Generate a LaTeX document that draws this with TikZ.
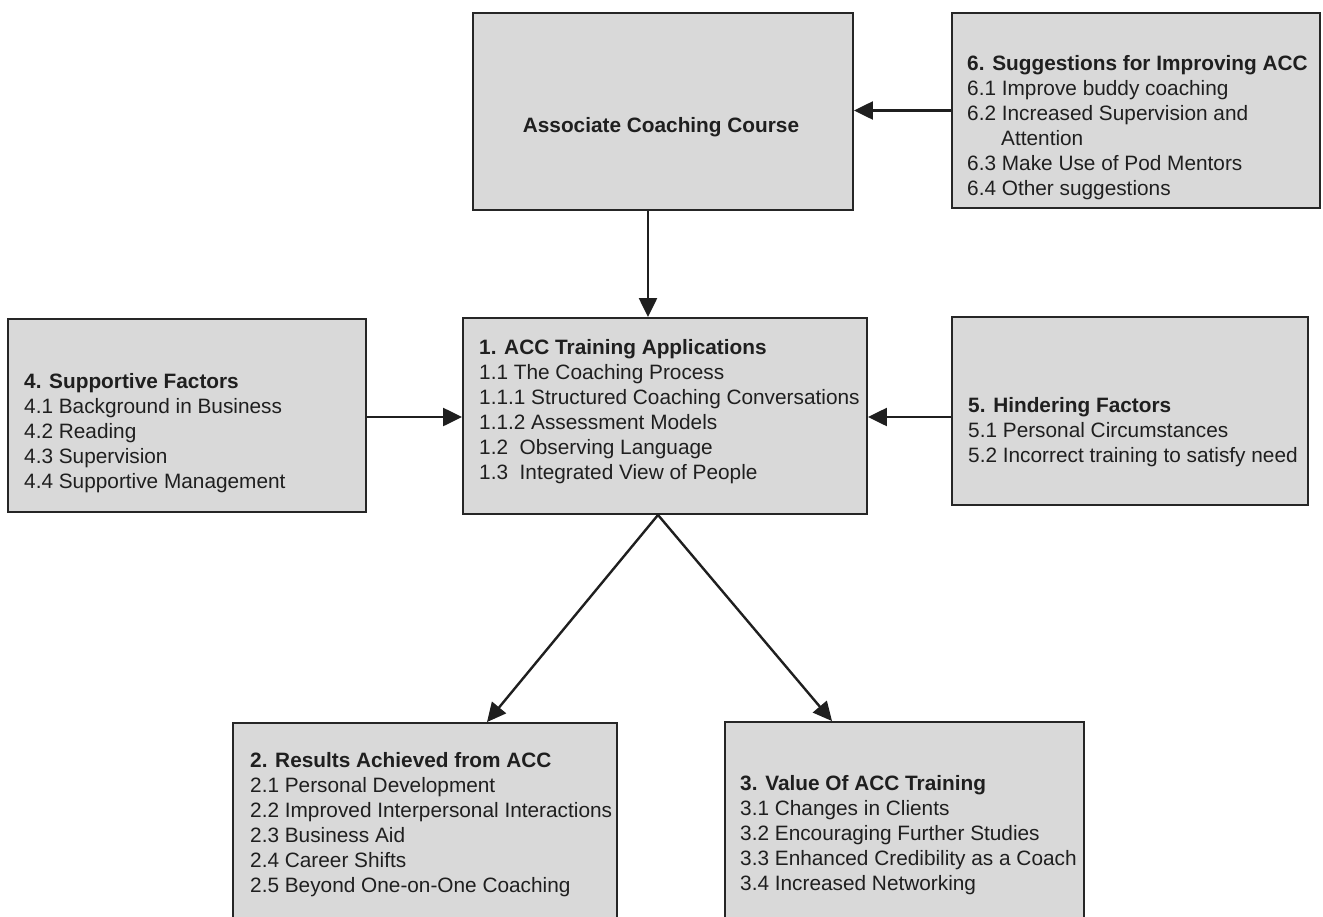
\documentclass[tikz,border=0pt]{standalone}
\usepackage{fontspec}
\setmainfont{Liberation Sans}
\usepackage{tikz}
\usetikzlibrary{arrows.meta}
\usetikzlibrary{positioning}

\tikzset{
  box/.style={draw=black!85, line width=1.9pt, fill=black!15, inner sep=0pt},
  txt/.style={anchor=north west, inner sep=0pt, align=left, text=black!88,
    font=\fontsize{20.8}{25}\selectfont},
  arr/.style={line width=2.4pt, draw=black!88,
    -{Triangle[length=19pt,width=18pt]}}
}

\begin{document}
\begin{tikzpicture}[x=1pt,y=-1pt]
          \useasboundingbox (0,0) rectangle (1323,916);
          \clip (0,0) rectangle (1323,916);
          \node [box, minimum width=380pt, minimum height=197pt] (b0) at (663,111.5) {};
          \node [box, minimum width=368pt, minimum height=195pt] (b6) at (1136,110.5) {};
          \node [box, minimum width=358pt, minimum height=193pt] (b4) at (187,415.5) {};
          \node [box, minimum width=404pt, minimum height=196pt] (b1) at (665,416) {};
          \node [box, minimum width=356pt, minimum height=188pt] (b5) at (1130,411) {};
          \node [box, minimum width=384pt, minimum height=212pt] (b2) at (425,829) {};
          \node [box, minimum width=359pt, minimum height=213pt] (b3) at (904.5,828.5) {};

          \node [txt, anchor=center, font=\fontsize{20.8}{25}\selectfont\bfseries] (t0) at (661,127)
            {Associate Coaching Course};
          \node [txt] (t6) at (967,55) {\textbf{6. Suggestions for Improving ACC}\\
            6.1 Improve buddy coaching\\
            6.2 Increased Supervision and\\
            \hspace*{34pt}Attention\\
            6.3 Make Use of Pod Mentors\\
            6.4 Other suggestions};
          \node [txt] (t4) at (24,373) {\textbf{4. Supportive Factors}\\
            4.1 Background in Business\\
            4.2 Reading\\
            4.3 Supervision\\
            4.4 Supportive Management};
          \node [txt] (t1) at (479,339) {\textbf{1. ACC Training Applications}\\
            1.1 The Coaching Process\\
            1.1.1 Structured Coaching Conversations\\
            1.1.2 Assessment Models\\
            1.2\ \ Observing Language\\
            1.3\ \ Integrated View of People};
          \node [txt] (t5) at (968,397) {\textbf{5. Hindering Factors}\\
            5.1 Personal Circumstances\\
            5.2 Incorrect training to satisfy need};
          \node [txt] (t2) at (250,752) {\textbf{2. Results Achieved from ACC}\\
            2.1 Personal Development\\
            2.2 Improved Interpersonal Interactions\\
            2.3 Business Aid\\
            2.4 Career Shifts\\
            2.5 Beyond One-on-One Coaching};
          \node [txt] (t3) at (740,775) {\textbf{3. Value Of ACC Training}\\
            3.1 Changes in Clients\\
            3.2 Encouraging Further Studies\\
            3.3 Enhanced Credibility as a Coach\\
            3.4 Increased Networking};

          \coordinate (p0) at ([xshift=-15pt]b0.south);
          \coordinate (p4) at ([yshift=-1.5pt]b4.east);
          \coordinate (p5) at ([yshift=-6pt]b5.west);
          \coordinate (p1) at ([xshift=-7pt]b1.south);
          \draw [arr] (p0) -- (p0 |- b1.north);
          \draw [arr] (b6.west) -- (b6.west -| b0.east);
          \draw [arr] (p4) -- (p4 -| b1.west);
          \draw [arr] (p5) -- (p5 -| b1.east);
          \draw [arr] (p1) -- ([xshift=62pt]b2.north);
          \draw [arr] (p1) -- ([xshift=-72.5pt]b3.north);
        \end{tikzpicture}
\end{document}
